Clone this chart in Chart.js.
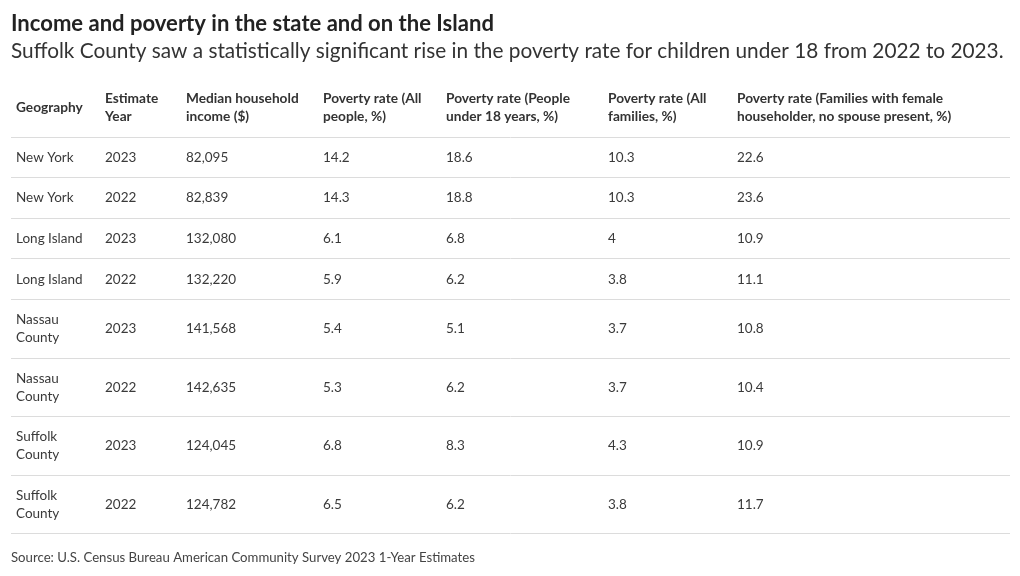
<!DOCTYPE html>
<html><head><meta charset="utf-8">
<script src="https://cdn.jsdelivr.net/npm/chart.js@4"></script>
<style>html,body{margin:0;padding:0;background:#fff}#wrap{width:1020px;height:576px}</style>
</head><body><div id="wrap"><canvas id="c" width="1020" height="576"></canvas></div>
<script>
// ---- data ----
const titleText = 'Income and poverty in the state and on the Island';
const subtitleText = 'Suffolk County saw a statistically significant rise in the poverty rate for children under 18 from 2022 to 2023.';
const sourceText = 'Source: U.S. Census Bureau American Community Survey 2023 1-Year Estimates';
const columnHeaders = ['Geography', 'Estimate Year', 'Median household income ($)', 'Poverty rate (All people, %)', 'Poverty rate (People under 18 years, %)', 'Poverty rate (All families, %)', 'Poverty rate (Families with female householder, no spouse present, %)'];
const geography = ['New York', 'New York', 'Long Island', 'Long Island', 'Nassau County', 'Nassau County', 'Suffolk County', 'Suffolk County'];
const estimateYear = [2023, 2022, 2023, 2022, 2023, 2022, 2023, 2022];
const medianIncome = [82095, 82839, 132080, 132220, 141568, 142635, 124045, 124782];
const povertyAll = [14.2, 14.3, 6.1, 5.9, 5.4, 5.3, 6.8, 6.5];
const povertyUnder18 = [18.6, 18.8, 6.8, 6.2, 5.1, 6.2, 8.3, 6.2];
const povertyFamilies = [10.3, 10.3, 4, 3.8, 3.7, 3.7, 4.3, 3.8];
const povertyFemaleHouseholder = [22.6, 23.6, 10.9, 11.1, 10.8, 10.4, 10.9, 11.7];

// ---- layout / style ----
const FAMILY = '"Source Sans Pro", Lato, sans-serif';
const colEdges = [0, 89, 170, 307, 430, 592, 721, 999];
const cellPadX = 5, lineH = 18, padY = 11.3;
const bodySize = 13.5, headSize = 13.7, sourceSize = 13.2;

const columns = [
  geography.map(String),
  estimateYear.map(String),
  medianIncome.map(v => v.toLocaleString('en-US')),
  povertyAll.map(String),
  povertyUnder18.map(String),
  povertyFamilies.map(String),
  povertyFemaleHouseholder.map(String)
];

const mctx = document.createElement('canvas').getContext('2d');
function wrap(text, font, width) {
  mctx.font = font;
  const words = text.split(' ');
  const lines = [];
  let cur = '';
  for (const w of words) {
    const t = cur ? cur + ' ' + w : w;
    if (cur && mctx.measureText(t).width > width) { lines.push(cur); cur = w; }
    else cur = t;
  }
  if (cur) lines.push(cur);
  return lines;
}
function fitSize(text, weight, target) {
  mctx.font = weight + ' 100px ' + FAMILY;
  return 100 * target / mctx.measureText(text).width;
}
const titleSize = fitSize(titleText, 'bold', 483);
const subSize = fitSize(subtitleText, 'normal', 993);

const headFont = 'bold ' + headSize + 'px ' + FAMILY;
const bodyFont = bodySize + 'px ' + FAMILY;
const headerLines = columnHeaders.map((h, c) => wrap(h, headFont, colEdges[c + 1] - colEdges[c] - 2 * cellPadX));
const cellLines = columns.map((col, c) => col.map(v => wrap(v, bodyFont, colEdges[c + 1] - colEdges[c] - 2 * cellPadX)));

const nRows = geography.length;
const headerH = Math.max(...headerLines.map(l => l.length)) * lineH + 2 * padY;
const rowCenters = [], rowBottoms = [];
let yAcc = headerH;
for (let r = 0; r < nRows; r++) {
  const n = Math.max(...cellLines.map(col => col[r].length));
  const h = n * lineH + 2 * padY;
  rowCenters.push(yAcc + h / 2);
  yAcc += h;
  rowBottoms.push(yAcc);
}
const tableH = yAcc;

const tablePlugin = {
  id: 'tableDraw',
  afterDatasetsDraw(chart) {
    const ctx = chart.ctx;
    const xs = chart.scales.x, ys = chart.scales.y;
    ctx.save();
    // grid lines
    ctx.strokeStyle = '#dcdcdc';
    ctx.lineWidth = 1;
    [headerH, ...rowBottoms].forEach(b => {
      const y = Math.round(ys.getPixelForValue(b)) + 0.5;
      ctx.beginPath();
      ctx.moveTo(xs.getPixelForValue(0), y);
      ctx.lineTo(xs.getPixelForValue(999), y);
      ctx.stroke();
    });
    ctx.textBaseline = 'middle';
    ctx.textAlign = 'left';
    // header
    ctx.font = headFont;
    ctx.fillStyle = '#333333';
    headerLines.forEach((lines, c) => {
      const x = xs.getPixelForValue(colEdges[c]) + cellPadX;
      const cy = ys.getPixelForValue(headerH / 2) + 0.5;
      lines.forEach((ln, i) => ctx.fillText(ln, x, cy + (i - (lines.length - 1) / 2) * lineH));
    });
    // body cells from dataset elements
    ctx.font = bodyFont;
    ctx.fillStyle = '#3a3a3a';
    chart.data.datasets.forEach((ds, c) => {
      const meta = chart.getDatasetMeta(c);
      meta.data.forEach((el, r) => {
        const lines = cellLines[c][r];
        lines.forEach((ln, i) => ctx.fillText(ln, el.x + cellPadX, el.y + 0.5 + (i - (lines.length - 1) / 2) * lineH));
      });
    });
    // source
    ctx.font = sourceSize + 'px ' + FAMILY;
    ctx.fillStyle = '#444444';
    ctx.fillText(sourceText, 11, 557.5);
    ctx.restore();
  }
};

const titleCenter = 24.3, subCenter = 50.8, tableTop = 78;
const titlePadTop = titleCenter - 0.6 * titleSize;
const subPadTop = subCenter - (titleCenter + 0.6 * titleSize) - 0.6 * subSize;
const subPadBottom = tableTop - subCenter - 0.6 * subSize;

new Chart(document.getElementById('c'), {
  type: 'scatter',
  data: {
    datasets: columns.map((col, c) => ({
      label: columnHeaders[c],
      data: col.map((v, r) => ({ x: colEdges[c], y: rowCenters[r] })),
      pointRadius: 0,
      pointHoverRadius: 0
    }))
  },
  options: {
    responsive: false,
    devicePixelRatio: 1,
    animation: false,
    events: [],
    layout: { padding: { left: 11, right: 10, top: 0, bottom: 576 - tableTop - tableH } },
    scales: {
      x: { type: 'linear', display: false, min: 0, max: 999 },
      y: { type: 'linear', display: false, reverse: true, min: 0, max: tableH }
    },
    plugins: {
      legend: { display: false },
      tooltip: { enabled: false },
      title: {
        display: true, text: titleText, align: 'start', color: '#222222',
        font: { family: FAMILY, size: titleSize, weight: 'bold', lineHeight: 1.2 },
        padding: { top: titlePadTop, bottom: 0 }
      },
      subtitle: {
        display: true, text: subtitleText, align: 'start', color: '#333333',
        font: { family: FAMILY, size: subSize, weight: 'normal', lineHeight: 1.2 },
        padding: { top: subPadTop, bottom: subPadBottom }
      }
    }
  },
  plugins: [tablePlugin]
});
</script></body></html>
